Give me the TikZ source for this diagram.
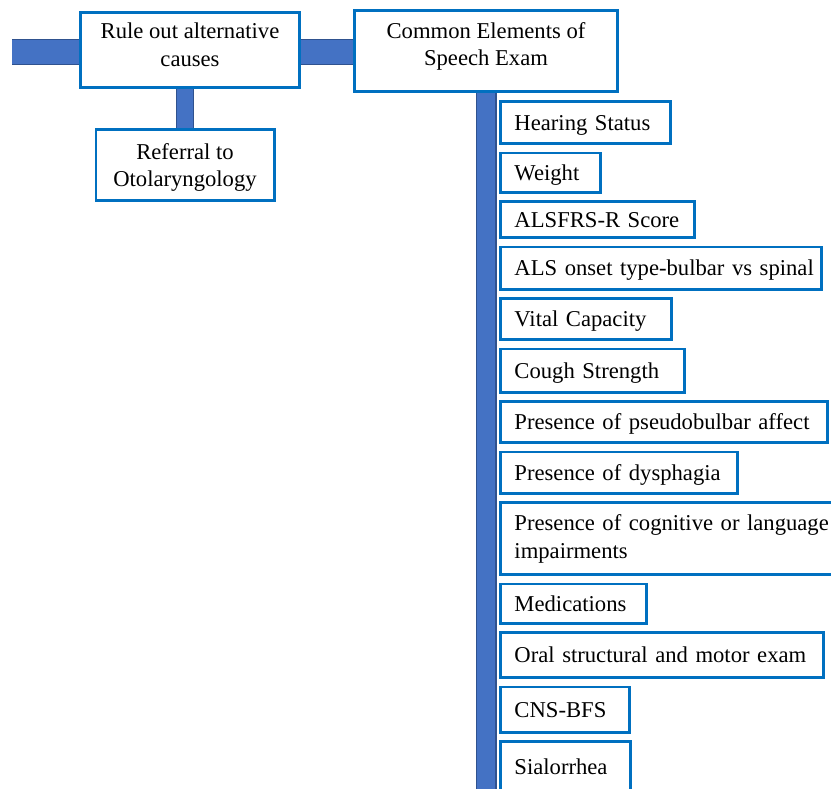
\documentclass[tikz,border=0pt]{standalone}
\usepackage{fontspec}
\setmainfont{Liberation Serif}
\usetikzlibrary{positioning}
\definecolor{boxblue}{HTML}{0070C0}
\definecolor{barblue}{HTML}{4472C4}
\definecolor{bardark}{HTML}{2F528F}
\newcommand{\pxu}{0.53pt}
\begin{document}
\begin{tikzpicture}[x=0.53pt, y=-0.53pt,
	every node/.style={font=\fontsize{12}{14.8}\selectfont},
	headbox/.style 2 args={rectangle, draw=boxblue, fill=white, line width=1.4pt, align=center,
		minimum width={#1*\pxu-1.4pt}, minimum height={#2*\pxu-1.4pt}, inner sep=0pt},
	item/.style 2 args={rectangle, draw=boxblue, fill=white, line width=1.4pt, anchor=north west,
		align=left, inner xsep=7.5pt, inner ysep=0pt, text width={#1*\pxu-16.4pt}, text depth=0pt,
		minimum height={#2*\pxu-1.4pt}},
	bar/.style={draw=bardark, line width=0.6pt, double=barblue, double distance={#1*\pxu-1.2pt}}]
	\useasboundingbox (0,0) rectangle (831,788);
	\clip (0,0) rectangle (831,788);

	\node (rule)[headbox={222}{78}, text depth=6pt, anchor=north west] at (79,11) {Rule out alternative\\causes};
	\node (common)[headbox={266}{84}, text depth=7.4pt, right=52*\pxu of rule, yshift=-1*\pxu] {Common Elements of\\Speech Exam};
	\node (referral)[headbox={181}{74}, text depth=0pt, below=39*\pxu of rule, xshift=-5*\pxu] {Referral to\\Otolaryngology};

	\node (hearing)[item={173}{45}] at (499,100) {Hearing Status};
	\node (weight)[below=6.5*\pxu of hearing.south west, item={103}{42}] {Weight};
	\node (alsfrs)[below=6.5*\pxu of weight.south west, item={197}{39}] {ALSFRS-R Score};
	\node (onset)[below=6.5*\pxu of alsfrs.south west, item={324}{45}] {\mbox{ALS onset type-bulbar vs spinal}};
	\node (vital)[below=6.5*\pxu of onset.south west, item={174}{44}] {Vital Capacity};
	\node (cough)[below=6.5*\pxu of vital.south west, item={187}{46}] {Cough Strength};
	\node (pseudo)[below=6.5*\pxu of cough.south west, item={330}{44}] {\mbox{Presence of pseudobulbar affect}};
	\node (dysphagia)[below=6.5*\pxu of pseudo.south west, item={240}{44}] {Presence of dysphagia};
	\node (cognitive)[below=6.5*\pxu of dysphagia.south west, item={352}{75}, text depth=] {Presence of cognitive or language\\impairments};
	\node (meds)[below=6.5*\pxu of cognitive.south west, item={149}{42}] {Medications};
	\node (oral)[below=6.5*\pxu of meds.south west, item={326}{48}] {Oral structural and motor exam};
	\node (cns)[below=6.5*\pxu of oral.south west, item={132}{48}] {CNS-BFS};
	\node (sial)[below=6.5*\pxu of cns.south west, item={133}{54}] {Sialorrhea};

	\coordinate (lend) at (12,52);
	\coordinate (bend) at (486,800);

	\draw[bar=26] (lend) -- (lend -| rule.west);
	\draw[bar=26] (rule.east |- lend) -- (common.west |- lend);
	\draw[bar=18] (referral.north) -- (referral.north |- rule.south);
	\draw[bar=21] (common.south) -- (common.south |- bend);
\end{tikzpicture}
\end{document}
